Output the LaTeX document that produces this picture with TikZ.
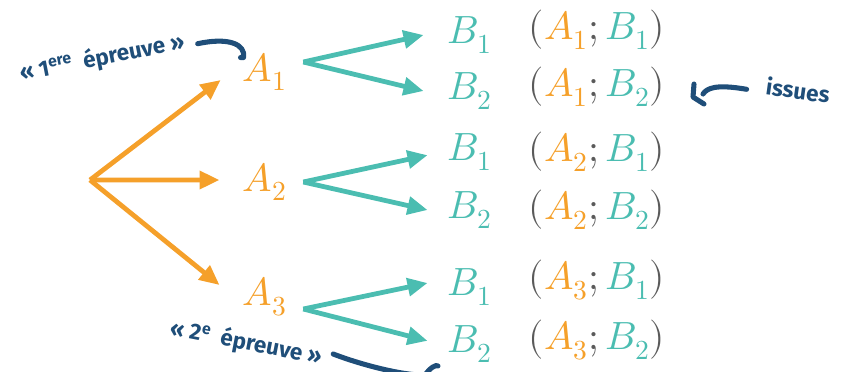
\documentclass[tikz,border=0pt]{standalone}
\usepackage{fontspec}
\usepackage{unicode-math}
\setmainfont{Fira Sans}
\setmathfont{Latin Modern Math}
\usetikzlibrary{arrows.meta, positioning}
\definecolor{orangeA}{HTML}{F5A02A}
\definecolor{tealB}{HTML}{4BBDB1}
\definecolor{bleuN}{HTML}{1F4E79}
\definecolor{grisP}{HTML}{5A5A5A}
\tikzset{
    evA/.style    = {text=orangeA, font=\fontsize{28}{30}\selectfont, inner sep=0pt},
    evB/.style    = {text=tealB, font=\fontsize{28}{30}\selectfont, inner sep=0pt},
    paire/.style  = {text=grisP, font=\fontsize{28}{30}\selectfont, inner sep=0pt},
    brA/.style    = {-{Triangle[length=5mm, width=4.4mm]}, line width=3.4pt, orangeA},
    brB/.style    = {-{Triangle[length=5mm, width=4.4mm]}, line width=3.4pt, tealB},
    note/.style   = {text=bleuN, font=\fontsize{16}{18}\selectfont\bfseries, inner sep=1pt},
    trait/.style  = {line width=3.6pt, bleuN, line cap=round, line join=round},
}
\newcommand{\pA}[1]{\textcolor{orangeA}{A_{#1}}}
\newcommand{\pB}[1]{\textcolor{tealB}{B_{#1}}}

\begin{document}
\begin{tikzpicture}[x=0.025cm, y=-0.025cm]
        \useasboundingbox (0,0) rectangle (856,371);
        % premiere epreuve
        \coordinate (O) at (90,180);
        \node[evA] (A1) at (265,72) {$A_1$};
        \node[evA] (A2) at (265,182) {$A_2$};
        \node[evA] (A3) at (265,297) {$A_3$};
        \draw[brA] (O) -- ([xshift=-0.55cm, yshift=-0.2cm]A1.west);
        \draw[brA] (O) -- ([xshift=-0.58cm, yshift=0.05cm]A2.west);
        \draw[brA] (O) -- ([xshift=-0.58cm, yshift=0.3cm]A3.west);
        % deuxieme epreuve
        \node[evB] (B11) at (470,35) {$B_1$};
        \node[evB] (B12) at (470,91) {$B_2$};
        \node[evB] (B21) at (470,152) {$B_1$};
        \node[evB] (B22) at (470,210) {$B_2$};
        \node[evB] (B31) at (470,287) {$B_1$};
        \node[evB] (B32) at (470,344) {$B_2$};
        \draw[brB] ([xshift=0.4cm, yshift=0.25cm]A1.east) -- ([xshift=-0.6cm]B11.west);
        \draw[brB] ([xshift=0.4cm, yshift=0.25cm]A1.east) -- ([xshift=-0.6cm]B12.west);
        \draw[brB] ([xshift=0.4cm]A2.east) -- ([xshift=-0.5cm, yshift=-0.08cm]B21.west);
        \draw[brB] ([xshift=0.4cm]A2.east) -- ([xshift=-0.5cm]B22.west);
        \draw[brB] ([xshift=0.4cm, yshift=-0.3cm]A3.east) -- ([xshift=-0.5cm, yshift=0.1cm]B31.west);
        \draw[brB] ([xshift=0.4cm, yshift=-0.3cm]A3.east) -- ([xshift=-0.5cm, yshift=0.08cm]B32.west);
        % issues
        \node[paire] (I11) at (597,30) {$(\pA{1};\pB{1})$};
        \node[paire] (I12) at (597,87) {$(\pA{1};\pB{2})$};
        \node[paire] (I21) at (597,152) {$(\pA{2};\pB{1})$};
        \node[paire] (I22) at (597,210) {$(\pA{2};\pB{2})$};
        \node[paire] (I31) at (597,280) {$(\pA{3};\pB{1})$};
        \node[paire] (I32) at (597,340) {$(\pA{3};\pB{2})$};
        % annotations
        \node[note, rotate=11] (ep1) at (102,58) {« 1\textsuperscript{ere}\ \ épreuve »};
        \draw[trait] ([xshift=0.3cm, yshift=-0.05cm]ep1.east) .. controls (228,37) and (246,44) .. ([xshift=0.02cm, yshift=-0.12cm]A1.north west)
            -- ++(-3,0);
        \node[note, rotate=-8] (iss) at (798,90) {issues};
        \draw[trait] ([xshift=-0.45cm, yshift=-0.1cm]iss.west) .. controls (716,84) and (707,88) .. (703,94);
        \draw[trait] (694,84) -- (693,97) -- (704,104);
        \node[note, rotate=-11] (ep2) at (246,343) {« 2\textsuperscript{e}\ \ épreuve »};
        \draw[trait] ([xshift=0.25cm, yshift=0.1cm]ep2.east) .. controls (370,368) and (410,376) .. (425,375)
            .. controls (430,368) and (436,364) .. (438,366);
    \end{tikzpicture}
\end{document}
